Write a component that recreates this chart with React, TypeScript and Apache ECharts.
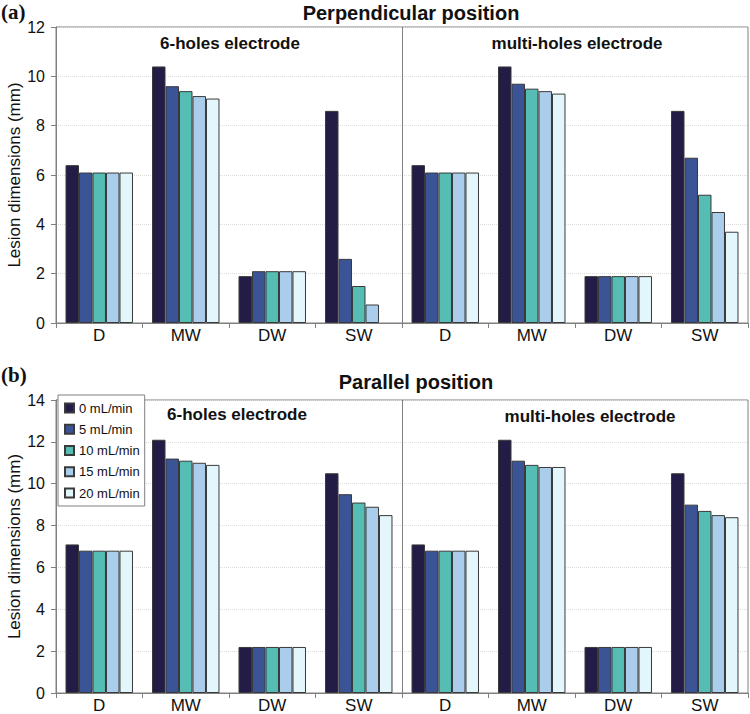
import React, { useEffect, useRef } from "react";
import * as echarts from "echarts";

const categories = ["D", "MW", "DW", "SW"];
const flowRates = ["0 mL/min", "5 mL/min", "10 mL/min", "15 mL/min", "20 mL/min"];
const colors = ["#231c47", "#3b5496", "#55bdb4", "#abcdec", "#e3f6fb"];
const perpTicks = { max: 12, interval: 2 };
const paraTicks = { max: 14, interval: 2 };

// rows: D, MW, DW, SW ; columns: flow rates 0,5,10,15,20 mL/min
const perpSixHoles = [
  [6.4, 6.1, 6.1, 6.1, 6.1],
  [10.4, 9.6, 9.4, 9.2, 9.1],
  [1.9, 2.1, 2.1, 2.1, 2.1],
  [8.6, 2.6, 1.5, 0.75, null],
];
const perpMultiHoles = [
  [6.4, 6.1, 6.1, 6.1, 6.1],
  [10.4, 9.7, 9.5, 9.4, 9.3],
  [1.9, 1.9, 1.9, 1.9, 1.9],
  [8.6, 6.7, 5.2, 4.5, 3.7],
];
const paraSixHoles = [
  [7.1, 6.8, 6.8, 6.8, 6.8],
  [12.1, 11.2, 11.1, 11.0, 10.9],
  [2.2, 2.2, 2.2, 2.2, 2.2],
  [10.5, 9.5, 9.1, 8.9, 8.5],
];
const paraMultiHoles = [
  [7.1, 6.8, 6.8, 6.8, 6.8],
  [12.1, 11.1, 10.9, 10.8, 10.8],
  [2.2, 2.2, 2.2, 2.2, 2.2],
  [10.5, 9.0, 8.7, 8.5, 8.4],
];

const FONT = '"Liberation Sans", Arial, sans-serif';
const SERIF = '"Liberation Serif", "Times New Roman", serif';

function buildSeries(six: (number | null)[][], multi: (number | null)[][], idx: number) {
  return flowRates.map((name, i) => ({
    type: "bar",
    name,
    xAxisIndex: idx,
    yAxisIndex: idx,
    barGap: "0%",
    barCategoryGap: "22%",
    itemStyle: { color: colors[i], borderColor: "#3a3a3a", borderWidth: 1 },
    data: [
      ...six.map((r) => (r[i] == null ? "-" : r[i])),
      ...multi.map((r) => (r[i] == null ? "-" : r[i])),
    ],
  }));
}

function xAxis(idx: number) {
  return {
    type: "category",
    gridIndex: idx,
    data: [...categories, ...categories],
    axisLine: { lineStyle: { color: "#808080" } },
    axisTick: { show: true, length: 5, lineStyle: { color: "#808080" } },
    axisLabel: { color: "#111", fontSize: 17, fontFamily: FONT, margin: 4 },
    splitLine: { show: false },
  };
}

function yAxis(idx: number, t: { max: number; interval: number }) {
  return {
    type: "value",
    gridIndex: idx,
    min: 0,
    max: t.max,
    interval: t.interval,
    name: "Lesion dimensions (mm)",
    nameLocation: "middle",
    nameGap: 42,
    nameMoveOverlap: false,
    nameTextStyle: { fontSize: 17, fontFamily: FONT, color: "#111", verticalAlign: "middle" },
    axisLine: { show: true, lineStyle: { color: "#808080" } },
    axisTick: { show: true, length: 5, lineStyle: { color: "#808080" } },
    axisLabel: { color: "#111", fontSize: 16, fontFamily: FONT, margin: 11 },
    splitLine: { show: true, lineStyle: { color: "#dcdcdc", type: "dotted" } },
  };
}

function txt(text: string, x: number, y: number, font: string) {
  return {
    type: "text",
    x,
    y,
    style: { text, font, fill: "#111", textAlign: "center", textVerticalAlign: "middle" },
  };
}

export default function App() {
  const ref = useRef<HTMLDivElement>(null);
  useEffect(() => {
    const chart = echarts.init(ref.current!, null, { renderer: "svg" });
    const baseGraphic: any[] = [
      { type: "text", x: 1, y: 12, style: { text: "(a)", font: `bold 21px ${SERIF}`, fill: "#111", textVerticalAlign: "middle" } },
      { type: "text", x: 1, y: 375, style: { text: "(b)", font: `bold 21px ${SERIF}`, fill: "#111", textVerticalAlign: "middle" } },
      txt("Perpendicular position", 411, 13, `bold 20px ${FONT}`),
      txt("Parallel position", 416, 382, `bold 20px ${FONT}`),
      txt("6-holes electrode", 230, 43, `bold 17px ${FONT}`),
      txt("multi-holes electrode", 577, 43, `bold 17px ${FONT}`),
      txt("6-holes electrode", 237, 414, `bold 17px ${FONT}`),
      txt("multi-holes electrode", 590, 416, `bold 17px ${FONT}`),
    ];
    chart.setOption({
      animation: false,
      backgroundColor: "#fff",
      grid: [
        { left: 56, right: 2, top: 27, height: 296, show: true, borderColor: "#808080", borderWidth: 1, containLabel: false, outerBoundsMode: "none" },
        { left: 56, right: 2, top: 400, height: 293, show: true, borderColor: "#808080", borderWidth: 1, containLabel: false, outerBoundsMode: "none" },
      ],
      xAxis: [xAxis(0), xAxis(1)],
      yAxis: [yAxis(0, perpTicks), yAxis(1, paraTicks)],
      legend: {
        data: flowRates,
        orient: "vertical",
        left: 58,
        top: 395,
        icon: "rect",
        itemWidth: 9,
        itemHeight: 9,
        itemGap: 7.25,
        padding: [6, 5, 6, 6],
        borderColor: "#808080",
        borderWidth: 1,
        backgroundColor: "#fff",
        selectedMode: false,
        z: 10,
        textStyle: { fontSize: 13, fontFamily: FONT, color: "#111", lineHeight: 14 },
      },
      series: [
        ...buildSeries(perpSixHoles, perpMultiHoles, 0),
        ...buildSeries(paraSixHoles, paraMultiHoles, 1),
      ],
      graphic: baseGraphic,
    });

    // divider between the two electrode groups, placed through the axes' own scales
    const dividers = [0, 1].map((g) => {
      const xa = chart.convertToPixel({ xAxisIndex: g }, categories.length - 1) as number;
      const xb = chart.convertToPixel({ xAxisIndex: g }, categories.length) as number;
      const yTop = chart.convertToPixel({ yAxisIndex: g }, g === 0 ? perpTicks.max : paraTicks.max) as number;
      const yBot = chart.convertToPixel({ yAxisIndex: g }, 0) as number;
      const x = Math.round((xa + xb) / 2) + 0.5;
      return {
        type: "line",
        z: 5,
        shape: { x1: x, y1: yTop, x2: x, y2: yBot },
        style: { stroke: "#808080", lineWidth: 1 },
      };
    });
    chart.setOption({ graphic: [...baseGraphic, ...dividers] });
    return () => chart.dispose();
  }, []);
  return <div ref={ref} style={{ position: "fixed", left: 0, top: 0, width: 750, height: 714 }} />;
}
